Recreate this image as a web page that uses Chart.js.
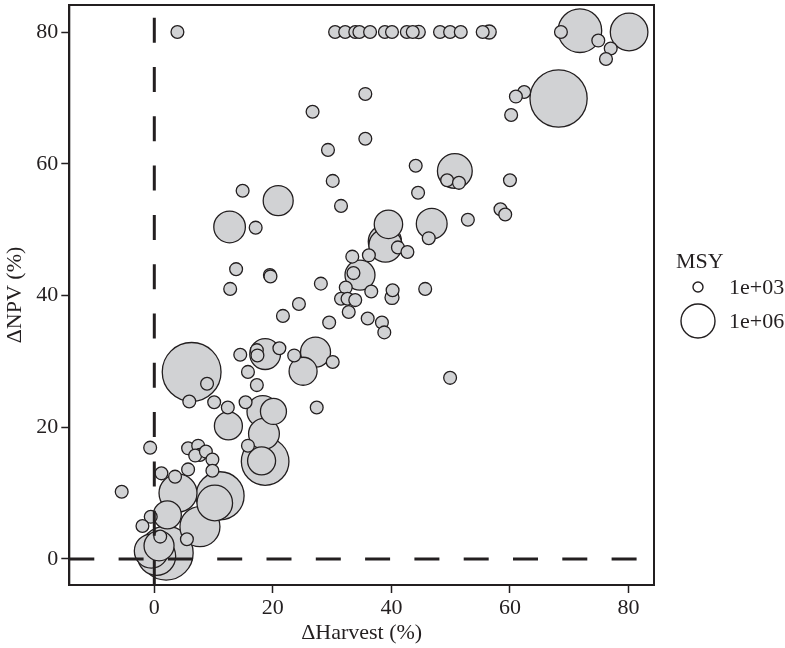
<!DOCTYPE html>
<html><head><meta charset="utf-8">
<script src="https://cdn.jsdelivr.net/npm/chart.js@4"></script>
<style>html,body{margin:0;padding:0;background:#fff;}#wrap{width:785px;height:648px;position:relative;}</style>
</head><body><div id="wrap"><canvas id="c" width="785" height="648"></canvas></div>
<script>
// ---- data ----
const harvest = [
  3.9, 30.5, 32.2, 33.9, 34.6, 36.4, 38.9, 40.1, 42.6, 43.6, 44.6, 48.2, 49.9, 51.7, 55.4, 56.5,
  71.8, 68.6, 74.9, 77.0, 76.2, 80.1, 68.2, 62.4, 61.0, 60.2, 35.6, 35.6, 50.7, 49.4, 51.4, 44.1,
  44.5, 60.0, 26.7, 29.3, 30.1, 14.9, 20.9, 31.5, 12.7, 17.1, 13.8, 19.5, 19.6, 12.8, 28.1, 24.4,
  21.7, 29.5, 33.4, 33.6, 32.3, 31.5, 32.6, 33.9, 32.8, 6.3, 14.5, 18.7, 17.3, 17.4, 21.1, 15.8,
  17.3, 23.6, 27.2, 25.1, 30.1, 8.9, 39.5, 46.8, 52.9, 58.4, 59.2, 38.9, 39.0, 46.3, 41.1, 42.7,
  36.2, 34.7, 36.6, 40.2, 40.1, 45.7, 36.0, 38.4, 38.8, 49.9, 5.9, 10.1, 12.4, 15.4, 18.3, 20.1,
  27.4, 12.5, 18.5, 15.8, 18.7, 18.1, -0.7, 5.7, 7.4, 7.7, 6.9, 8.7, 9.8, 5.7, 9.8, 1.2,
  -5.5, 3.5, 4.0, 11.1, 10.2, 2.2, 7.7, -0.6, -2.0, 5.5, 1.0, 2.0, 0.4, -0.5, 0.8
];
const npv = [
  80, 80, 80, 80, 80, 80, 80, 80, 80, 80, 80, 80, 80, 80, 80, 80,
  80.2, 80.0, 78.7, 77.5, 75.9, 80.0, 69.9, 70.9, 70.2, 67.4, 70.6, 63.8, 58.9, 57.5, 57.1, 59.7,
  55.6, 57.5, 67.9, 62.1, 57.4, 55.9, 54.4, 53.6, 50.4, 50.3, 44.0, 43.1, 42.9, 41.0, 41.8, 38.7,
  36.9, 35.9, 45.9, 43.4, 41.2, 39.5, 39.5, 39.3, 37.5, 28.4, 31.0, 31.1, 31.7, 30.9, 32.0, 28.4,
  26.4, 30.9, 31.4, 28.5, 29.9, 26.6, 50.8, 50.9, 51.5, 53.1, 52.3, 48.2, 47.6, 48.7, 47.3, 46.6,
  46.1, 43.1, 40.6, 40.8, 39.7, 41.0, 36.5, 35.9, 34.4, 27.5, 23.9, 23.8, 23.0, 23.8, 22.4, 22.4,
  23.0, 20.2, 19.0, 17.2, 14.8, 14.9, 16.9, 16.8, 17.2, 15.8, 15.7, 16.3, 15.1, 13.6, 13.4, 13.0,
  10.2, 12.5, 10.0, 9.6, 8.5, 6.7, 4.9, 6.4, 5.0, 3.0, 3.4, 0.9, 0.4, 1.2, 2.0
];
// log10(MSY) per point
const logMSY = [
  3.35, 3.35, 3.35, 3.35, 3.35, 3.35, 3.35, 3.35, 3.35, 3.35, 3.4, 3.35, 3.35, 3.35, 3.35, 3.5,
  7.2, 3.35, 3.35, 3.35, 3.35, 6.45, 8.9, 3.35, 3.35, 3.35, 3.35, 3.35, 6.1, 3.35, 3.35, 3.35,
  3.35, 3.35, 3.35, 3.35, 3.35, 3.35, 5.5, 3.35, 5.7, 3.35, 3.35, 3.35, 3.35, 3.35, 3.35, 3.35,
  3.35, 3.35, 3.35, 3.35, 3.35, 3.35, 3.35, 3.35, 3.35, 9.1, 3.35, 5.6, 3.35, 3.35, 3.35, 3.35,
  3.35, 3.35, 5.5, 5.25, 3.35, 3.35, 5.3, 5.6, 3.35, 3.35, 3.35, 5.9, 5.9, 3.35, 3.35, 3.35,
  3.35, 5.5, 3.35, 3.35, 3.5, 3.35, 3.35, 3.35, 3.35, 3.35, 3.35, 3.35, 3.35, 3.35, 5.7, 5.0,
  3.35, 5.25, 5.6, 3.35, 7.7, 5.25, 3.35, 3.35, 3.35, 3.35, 3.35, 3.35, 3.35, 3.35, 3.35, 3.35,
  3.35, 3.35, 6.5, 7.75, 6.2, 5.25, 6.75, 3.35, 3.35, 3.35, 3.35, 8.5, 6.5, 6.0, 5.5
];
const xTicks = [0, 20, 40, 60, 80];
const yTicks = [0, 20, 40, 60, 80];
const legendBreaks = [3, 6];
const legendLabels = ['1e+03', '1e+06'];
const refX = 0, refY = 0;

// ---- styling / mapping ----
const INK = '#231f20';
const FILL = '#d1d2d4';
const FONT = 'Liberation Serif';
const sizeOf = L => 5 + 4 * (L - 3);

const order = harvest.map((_, i) => i).sort((a, b) => logMSY[b] - logMSY[a]);
const points = order.map(i => ({ x: harvest[i], y: npv[i], r: sizeOf(logMSY[i]) }));

const refLines = {
  id: 'refLines',
  afterDatasetsDraw(chart) {
    const { ctx, chartArea: a, scales } = chart;
    const x0 = scales.x.getPixelForValue(refX);
    const y0 = scales.y.getPixelForValue(refY);
    ctx.save();
    ctx.beginPath(); ctx.rect(a.left, a.top, a.right - a.left, a.bottom - a.top); ctx.clip();
    ctx.strokeStyle = INK; ctx.lineWidth = 3; ctx.setLineDash([25, 24.3]); ctx.lineCap = 'butt';
    ctx.beginPath(); ctx.moveTo(a.left, y0); ctx.lineTo(a.right, y0); ctx.stroke();
    ctx.beginPath(); ctx.moveTo(x0, a.bottom); ctx.lineTo(x0, a.top); ctx.stroke();
    ctx.restore();
  },
  afterDraw(chart) {
    const { ctx, chartArea: a } = chart;
    ctx.save();
    ctx.strokeStyle = INK; ctx.lineWidth = 2;
    ctx.strokeRect(a.left, a.top, a.right - a.left, a.bottom - a.top);
    // legend
    ctx.fillStyle = INK;
    ctx.font = '22px "' + FONT + '"';
    ctx.textBaseline = 'middle'; ctx.textAlign = 'left';
    ctx.fillText('MSY', 676, 262);
    const ys = [287, 321];
    legendBreaks.forEach((L, k) => {
      ctx.beginPath(); ctx.arc(698, ys[k], sizeOf(L), 0, Math.PI * 2);
      ctx.fillStyle = '#fff'; ctx.fill();
      ctx.lineWidth = 1.4; ctx.strokeStyle = INK; ctx.stroke();
      ctx.fillStyle = INK;
      ctx.fillText(legendLabels[k], 729, ys[k] + 1);
    });
    ctx.restore();
  }
};

const tickFont = { family: FONT, size: 22 };
new Chart(document.getElementById('c'), {
  type: 'bubble',
  data: { datasets: [{ data: points, backgroundColor: FILL, borderColor: INK, borderWidth: 1.3, hoverRadius: 0, hoverBorderWidth: 1.3 }] },
  options: {
    responsive: false, animation: false, devicePixelRatio: 1,
    layout: { autoPadding: false, padding: { left: 0, right: 131, top: 5, bottom: 0 } },
    plugins: { legend: { display: false }, tooltip: { enabled: false } },
    events: [],
    scales: {
      x: {
        type: 'linear', min: -14.34, max: 84.3,
        afterBuildTicks: s => { s.ticks = xTicks.map(v => ({ value: v })); },
        afterFit: s => { s.height = 63; s.paddingLeft = 0; s.paddingRight = 0; },
        grid: { display: true, drawOnChartArea: false, drawTicks: true, tickLength: 8, tickWidth: 1.5, tickColor: INK },
        border: { display: true, color: INK, width: 2 },
        ticks: { font: tickFont, color: INK, padding: 2, maxRotation: 0 },
        title: { display: true, text: 'ΔHarvest (%)', font: tickFont, color: INK, padding: { top: 0, bottom: 2 } }
      },
      y: {
        type: 'linear', min: -3.95, max: 84.1,
        afterBuildTicks: s => { s.ticks = yTicks.map(v => ({ value: v })); },
        afterFit: s => { s.width = 69.3; s.paddingTop = 0; s.paddingBottom = 0; },
        grid: { display: true, drawOnChartArea: false, drawTicks: true, tickLength: 8, tickWidth: 1.5, tickColor: INK },
        border: { display: true, color: INK, width: 2 },
        ticks: { font: tickFont, color: INK, padding: 3 },
        title: { display: true, text: 'ΔNPV (%)', font: tickFont, color: INK, padding: { top: 2, bottom: 0 } }
      }
    }
  },
  plugins: [refLines]
});
</script>
</body></html>
